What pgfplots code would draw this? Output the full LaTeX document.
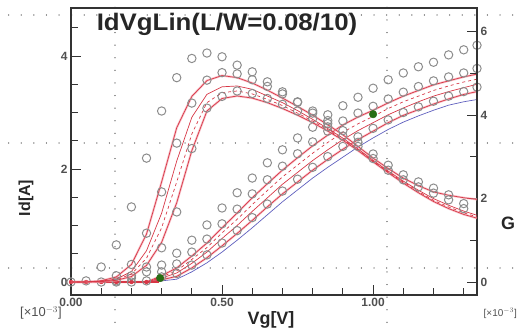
\documentclass[border=0pt]{standalone}
\usepackage{fontspec}
\setmainfont{Liberation Sans}
\usepackage{pgfplots}
\pgfplotsset{compat=1.18}
\definecolor{lbl}{RGB}{80,80,80}
\definecolor{circ}{RGB}{140,140,140}
\definecolor{rline}{RGB}{215,55,70}
\definecolor{rhalo}{RGB}{245,170,180}
\definecolor{bline}{RGB}{95,95,190}
\definecolor{gdot}{RGB}{40,110,20}
\definecolor{gridd}{RGB}{140,140,140}
\pgfplotsset{
  base/.style={scale only axis, width=406bp, height=287bp, at={(0,0)}, anchor=south west,
    xmin=0, xmax=1.344, clip=true,
    tick align=inside, major tick length=10bp, minor tick length=7bp,
    axis line style={line width=1.4pt, black!80},
    tick style={line width=0.9pt, black!80},
    tick label style={font=\fontsize{12}{13}\selectfont\bfseries, text=lbl}},
  halo/.style={rhalo, line width=2.2pt, opacity=0.7, no markers},
  rl/.style={rline, line width=0.7pt, no markers},
  circs/.style={only marks, mark=o, mark size=4.2pt, mark options={circ, line width=1.0pt}},
}
\begin{document}
\begin{tikzpicture}
\path[use as bounding box] (-71bp,-37bp) rectangle (446bp,295bp);
\clip (-71bp,-37bp) rectangle (446bp,295bp);
% misaligned dotted grid of the screenshot
\begin{scope}[gridd, line width=1.3pt, line cap=round, dash pattern=on 0.1pt off 12.5bp]
\draw (44bp,-40bp) -- (44bp,300bp);
\draw (316bp,-40bp) -- (316bp,300bp);
\draw (-75bp,152bp) -- (450bp,152bp);
\draw (-75bp,27bp) -- (450bp,27bp);
\draw (-75bp,280bp) -- (450bp,280bp);
\end{scope}
% ---------- left axis: Id ----------
\begin{axis}[base, ymin=-0.23, ymax=4.85,
  xtick={0,0.5,1}, xticklabels={0.00,0.50,1.00},
  minor xtick={0.1,0.2,0.3,0.4,0.6,0.7,0.8,0.9,1.1,1.2,1.3},
  ytick={0,2,4}, yticklabels={0,2,4},
  minor ytick={0.5,1,1.5,2.5,3,3.5,4.5},
  xtick pos=left, ytick pos=left]
% outlier Id circles
\addplot[circs] coordinates {(0.15,0.02)(0.20,0.07)(0.25,0.18)(0.30,0.30)(0.35,0.51)(0.40,0.74)(0.45,1.01)(0.50,1.31)(0.55,1.58)(0.60,1.84)(0.65,2.11)(0.70,2.34)(0.75,2.55)(0.80,2.74)(0.85,2.96)(0.90,3.12)(0.95,3.27)(1.00,3.43)(1.05,3.58)(1.10,3.70)(1.15,3.81)(1.20,3.89)(1.25,4.02)(1.30,4.11)(1.344,4.19)};
% Id circles near curves
\addplot[circs] coordinates {(0.00,0)(0.05,0.02)(0.10,0)(0.15,0)(0.20,0)(0.25,0.02)(0.30,0.18)(0.35,0.32)(0.40,0.53)(0.45,0.76)(0.50,1.03)(0.55,1.29)(0.60,1.56)(0.65,1.81)(0.70,2.05)(0.75,2.27)(0.80,2.48)(0.85,2.67)(0.90,2.85)(0.95,2.99)(1.00,3.11)(1.05,3.24)(1.10,3.36)(1.15,3.46)(1.20,3.56)(1.25,3.63)(1.30,3.70)(1.344,3.78)};
\addplot[circs] coordinates {(0.30,0.09)(0.35,0.15)(0.40,0.30)(0.45,0.48)(0.50,0.69)(0.55,0.91)(0.60,1.14)(0.65,1.38)(0.70,1.61)(0.75,1.82)(0.80,2.03)(0.85,2.22)(0.90,2.40)(0.95,2.57)(1.00,2.72)(1.05,2.87)(1.10,3.00)(1.15,3.10)(1.20,3.20)(1.25,3.29)(1.30,3.37)(1.344,3.45)};
% halos
\addplot[halo] coordinates {(0,0)(0.25,0)(0.30,0.11)(0.35,0.25)(0.40,0.46)(0.45,0.69)(0.50,0.96)(0.55,1.22)(0.60,1.49)(0.65,1.74)(0.70,1.98)(0.75,2.20)(0.80,2.41)(0.85,2.60)(0.90,2.78)(0.95,2.92)(1.00,3.04)(1.05,3.17)(1.10,3.29)(1.15,3.39)(1.20,3.49)(1.25,3.56)(1.30,3.63)(1.344,3.68)};
\addplot[halo] coordinates {(0,0)(0.25,0)(0.30,0.04)(0.35,0.10)(0.40,0.25)(0.45,0.43)(0.50,0.64)(0.55,0.86)(0.60,1.09)(0.65,1.33)(0.70,1.56)(0.75,1.77)(0.80,1.98)(0.85,2.17)(0.90,2.35)(0.95,2.52)(1.00,2.67)(1.05,2.82)(1.10,2.95)(1.15,3.05)(1.20,3.15)(1.25,3.24)(1.30,3.32)(1.344,3.37)};
% red Id curves
\addplot[rl] coordinates {(0,0)(0.25,0)(0.30,0.11)(0.35,0.25)(0.40,0.46)(0.45,0.69)(0.50,0.96)(0.55,1.22)(0.60,1.49)(0.65,1.74)(0.70,1.98)(0.75,2.20)(0.80,2.41)(0.85,2.60)(0.90,2.78)(0.95,2.92)(1.00,3.04)(1.05,3.17)(1.10,3.29)(1.15,3.39)(1.20,3.49)(1.25,3.56)(1.30,3.63)(1.344,3.68)};
\addplot[rl, dashed] coordinates {(0,0)(0.25,0)(0.30,0.09)(0.35,0.20)(0.40,0.40)(0.45,0.61)(0.50,0.87)(0.55,1.11)(0.60,1.37)(0.65,1.62)(0.70,1.86)(0.75,2.07)(0.80,2.28)(0.85,2.47)(0.90,2.65)(0.95,2.80)(1.00,2.93)(1.05,3.07)(1.10,3.19)(1.15,3.29)(1.20,3.39)(1.25,3.47)(1.30,3.54)(1.344,3.59)};
\addplot[rl] coordinates {(0,0)(0.25,0)(0.30,0.07)(0.35,0.16)(0.40,0.33)(0.45,0.53)(0.50,0.77)(0.55,1.00)(0.60,1.25)(0.65,1.49)(0.70,1.73)(0.75,1.94)(0.80,2.15)(0.85,2.34)(0.90,2.52)(0.95,2.68)(1.00,2.82)(1.05,2.96)(1.10,3.08)(1.15,3.19)(1.20,3.29)(1.25,3.37)(1.30,3.44)(1.344,3.50)};
\addplot[rl] coordinates {(0,0)(0.25,0)(0.30,0.04)(0.35,0.10)(0.40,0.25)(0.45,0.43)(0.50,0.64)(0.55,0.86)(0.60,1.09)(0.65,1.33)(0.70,1.56)(0.75,1.77)(0.80,1.98)(0.85,2.17)(0.90,2.35)(0.95,2.52)(1.00,2.67)(1.05,2.82)(1.10,2.95)(1.15,3.05)(1.20,3.15)(1.25,3.24)(1.30,3.32)(1.344,3.37)};
% blue Id curve
\addplot[bline, line width=0.7pt, no markers] coordinates {(0,0)(0.25,0)(0.30,0.02)(0.35,0.05)(0.40,0.18)(0.45,0.34)(0.50,0.53)(0.55,0.74)(0.60,0.96)(0.65,1.19)(0.70,1.42)(0.75,1.63)(0.80,1.84)(0.85,2.03)(0.90,2.21)(0.95,2.39)(1.00,2.55)(1.05,2.70)(1.10,2.83)(1.15,2.94)(1.20,3.04)(1.25,3.13)(1.30,3.19)(1.344,3.23)};
% thick red base and dots
\addplot[rline, line width=1.6pt, no markers] coordinates {(0,0)(0.29,0)};
\addplot[only marks, mark=*, mark size=2pt, rline] coordinates {(0,0)(0.05,0)(0.10,0)(0.15,0)(0.20,0)(0.25,0)};
% green dots
\addplot[only marks, mark=*, mark size=3.8pt, gdot] coordinates {(0.295,0.07)(1.0,2.97)};
\end{axis}
% ---------- right axis: Gm ----------
\begin{axis}[base, ymin=-0.312, ymax=6.57,
  axis y line*=right, axis x line=none,
  ytick={0,2,4,6}, yticklabels={0,2,4,6}, minor ytick={1,3,5}, tick align=inside]
% outlier Gm circles
\addplot[circs] coordinates {(0.10,0.36)(0.15,0.89)(0.20,1.80)(0.25,2.97)(0.30,4.10)(0.35,4.90)(0.40,5.36)(0.45,5.49)(0.50,5.40)(0.55,5.20)(0.60,5.04)(0.65,4.80)(0.70,4.56)(0.75,4.32)(0.80,4.05)(0.85,3.80)};
\addplot[circs] coordinates {(0.15,0.15)(0.20,0.42)(0.25,1.17)(0.30,2.16)(0.35,3.33)(0.40,4.29)(0.45,4.84)(0.50,5.02)(0.55,4.99)(0.60,4.85)(0.65,4.69)(0.70,4.51)(0.75,4.31)(0.80,4.10)(0.85,3.87)(0.90,3.63)(0.95,3.35)(1.00,3.07)(1.05,2.80)(1.10,2.57)(1.15,2.40)(1.20,2.25)(1.25,2.09)(1.30,1.88)};
\addplot[circs] coordinates {(0.20,0.15)(0.25,0.36)(0.30,0.82)(0.35,1.68)(0.40,3.20)(0.45,4.17)(0.50,4.45)(0.55,4.58)(0.60,4.52)(0.65,4.40)(0.70,4.26)(0.75,4.10)(0.80,3.92)(0.85,3.72)(0.90,3.50)(0.95,3.25)(1.00,2.96)(1.05,2.68)(1.10,2.45)(1.15,2.28)(1.20,2.13)(1.25,1.97)(1.30,1.76)};
% halos
\addplot[halo] coordinates {(0,0)(0.05,0)(0.10,0.03)(0.15,0.12)(0.20,0.42)(0.25,1.15)(0.30,2.40)(0.35,3.70)(0.40,4.45)(0.45,4.83)(0.50,4.95)(0.55,4.90)(0.60,4.77)(0.65,4.60)(0.70,4.41)(0.75,4.21)(0.80,4.00)(0.85,3.77)(0.90,3.53)(0.95,3.25)(1.00,2.97)(1.05,2.72)(1.10,2.49)(1.15,2.31)(1.20,2.16)(1.25,2.08)(1.30,2.02)(1.344,1.98)};
\addplot[halo] coordinates {(0,0)(0.05,0)(0.10,0.01)(0.15,0.04)(0.20,0.13)(0.25,0.40)(0.30,0.95)(0.35,1.90)(0.40,3.15)(0.45,4.10)(0.50,4.40)(0.55,4.46)(0.60,4.41)(0.65,4.30)(0.70,4.16)(0.75,4.00)(0.80,3.82)(0.85,3.62)(0.90,3.40)(0.95,3.15)(1.00,2.88)(1.05,2.62)(1.10,2.37)(1.15,2.14)(1.20,1.93)(1.25,1.76)(1.30,1.62)(1.344,1.53)};
% red Gm curves
\addplot[rl] coordinates {(0,0)(0.05,0)(0.10,0.03)(0.15,0.12)(0.20,0.42)(0.25,1.15)(0.30,2.40)(0.35,3.70)(0.40,4.45)(0.45,4.83)(0.50,4.95)(0.55,4.90)(0.60,4.77)(0.65,4.60)(0.70,4.41)(0.75,4.21)(0.80,4.00)(0.85,3.77)(0.90,3.53)(0.95,3.25)(1.00,2.97)(1.05,2.72)(1.10,2.49)(1.15,2.31)(1.20,2.16)(1.25,2.08)(1.30,2.02)(1.344,1.98)};
\addplot[rl] coordinates {(0,0)(0.05,0)(0.10,0.02)(0.15,0.07)(0.20,0.25)(0.25,0.75)(0.30,1.65)(0.35,2.90)(0.40,3.95)(0.45,4.50)(0.50,4.68)(0.55,4.70)(0.60,4.62)(0.65,4.46)(0.70,4.30)(0.75,4.11)(0.80,3.90)(0.85,3.68)(0.90,3.45)(0.95,3.19)(1.00,2.92)(1.05,2.66)(1.10,2.42)(1.15,2.20)(1.20,2.00)(1.25,1.84)(1.30,1.70)(1.344,1.60)};
\addplot[rl, dashed] coordinates {(0,0)(0.05,0)(0.10,0.01)(0.15,0.05)(0.20,0.19)(0.25,0.57)(0.30,1.30)(0.35,2.40)(0.40,3.55)(0.45,4.30)(0.50,4.54)(0.55,4.58)(0.60,4.51)(0.65,4.38)(0.70,4.23)(0.75,4.05)(0.80,3.86)(0.85,3.65)(0.90,3.42)(0.95,3.17)(1.00,2.90)(1.05,2.64)(1.10,2.40)(1.15,2.17)(1.20,1.96)(1.25,1.80)(1.30,1.66)(1.344,1.56)};
\addplot[rl] coordinates {(0,0)(0.05,0)(0.10,0.01)(0.15,0.04)(0.20,0.13)(0.25,0.40)(0.30,0.95)(0.35,1.90)(0.40,3.15)(0.45,4.10)(0.50,4.40)(0.55,4.46)(0.60,4.41)(0.65,4.30)(0.70,4.16)(0.75,4.00)(0.80,3.82)(0.85,3.62)(0.90,3.40)(0.95,3.15)(1.00,2.88)(1.05,2.62)(1.10,2.37)(1.15,2.14)(1.20,1.93)(1.25,1.76)(1.30,1.62)(1.344,1.53)};
\end{axis}
% ---------- texts ----------
\node[text=black!85, font=\fontsize{24}{28}\selectfont\bfseries, xscale=1.08, anchor=base] at (156bp,264bp) {IdVgLin(L/W=0.08/10)};
\node[text=black!85, font=\fontsize{16}{18}\selectfont\bfseries, rotate=90] at (-45bp,97bp) {Id[A]};
\node[text=black!85, font=\fontsize{18}{20}\selectfont\bfseries] at (200bp,-25bp) {Vg[V]};
\node[text=lbl, font=\fontsize{13}{14}\selectfont, anchor=west, inner sep=0pt] at (-51bp,-18bp) {[×10$^{-3}$]};
\node[text=lbl, font=\fontsize{10}{11}\selectfont, anchor=east, inner sep=0pt] at (446bp,-18bp) {[×10$^{-3}$]};
\node[text=black!85, font=\fontsize{18}{20}\selectfont\bfseries, inner sep=0pt] at (437bp,72bp) {G};
\end{tikzpicture}
\end{document}
